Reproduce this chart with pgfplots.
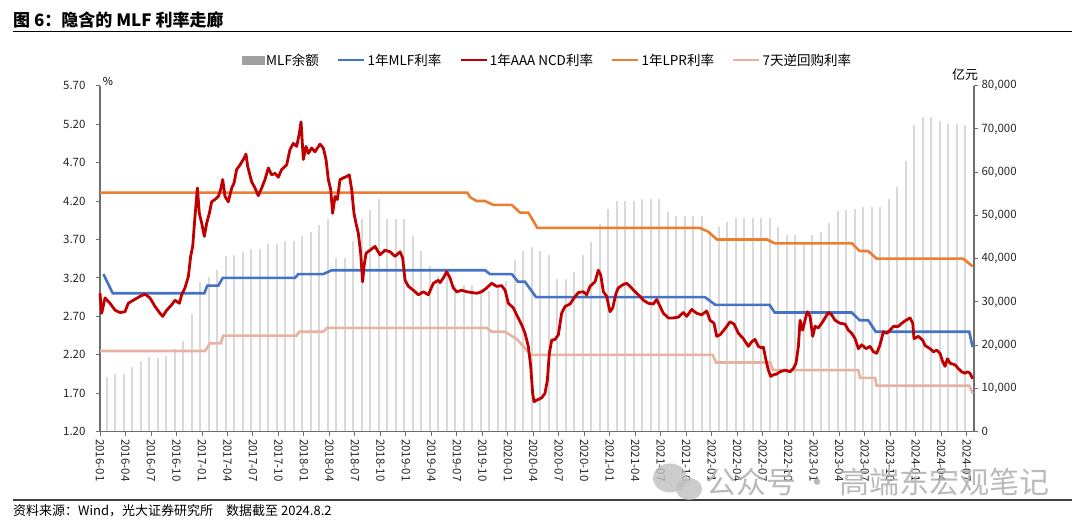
\documentclass[border=0pt]{standalone}
\usepackage{fontspec}
\setmainfont{Noto Sans CJK SC}
\usepackage{pgfplots}
\pgfplotsset{compat=1.18}
\definecolor{cBlue}{RGB}{68,114,196}
\definecolor{cRed}{RGB}{192,0,0}
\definecolor{cOrange}{RGB}{237,125,49}
\definecolor{cPink}{RGB}{233,178,160}
\definecolor{cBar}{RGB}{217,217,217}
\definecolor{cLegBar}{RGB}{160,160,160}
\definecolor{cAxis}{RGB}{110,110,110}
\pgfplotsset{
  linelegend/.style={legend image code/.code={\draw[##1] (0pt,0pt) -- (26pt,0pt);}},
  base/.style={
    scale only axis, width=874pt, height=346pt,
    at={(100pt,92.3pt)}, anchor=south west,
    xmin=0, xmax=102.86,
    tick align=outside, major tick length=4pt,
    every tick/.style={cAxis, line width=0.9pt},
    axis line style={cAxis, line width=1.1pt},
    ticklabel style={font=\fontsize{11.5}{13}\selectfont, text=black!85},
    /pgf/number format/assume math mode=true,
  }
}
\begin{document}
\begin{tikzpicture}[x=1pt,y=1pt]
\path[use as bounding box] (0,0) rectangle (1080,524);
% title
\node[anchor=west, font=\bfseries\fontsize{17}{20}\selectfont, inner sep=0pt] at (13,504) {图 6：隐含的 MLF 利率走廊};
\draw[black, line width=1.5pt] (13,492.3) -- (1072,492.3);
% footer
\draw[black!75, line width=1.5pt] (13,24) -- (1072,24);
\node[anchor=west, font=\fontsize{13}{15}\selectfont, inner sep=0pt] at (13,13) {资料来源：Wind，光大证券研究所\quad 数据截至 2024.8.2};

% right axis: MLF balance
\begin{axis}[base,
  ymin=0, ymax=80000,
  axis y line*=right, axis x line=none,
  ytick={0,10000,20000,30000,40000,50000,60000,70000,80000},
  scaled y ticks=false,
  yticklabel style={/pgf/number format/.cd, fixed, 1000 sep={,}},
]
\addplot[ycomb, cBar, line width=2pt, mark=none, forget plot] coordinates {
(0.8,12700)(1.8,13300)(2.8,13300)(3.8,14900)(4.8,16400)(5.8,17300)(6.8,17000)(7.8,17500)(8.8,19100)(9.8,21000)
(10.8,27200)(11.8,34500)(12.8,35700)(13.8,37500)(14.8,40700)(15.8,40900)(16.8,41500)(17.8,42200)(18.8,42200)(19.8,43400)
(20.8,43500)(21.8,44000)(22.8,44200)(23.8,45300)(24.8,46200)(25.8,47800)(26.8,49200)(27.8,40100)(28.8,40100)(29.8,44200)
(30.8,49200)(31.8,51300)(32.8,53800)(33.8,49200)(34.8,49200)(35.8,49200)(36.8,45300)(37.8,41700)(38.8,38200)(39.8,36100)
(40.8,36000)(41.8,33900)(42.8,33900)(43.8,33900)(44.8,33000)(45.8,32500)(46.8,34000)(47.8,34900)(48.8,39800)(49.8,41800)
(50.8,42800)(51.8,41800)(52.8,40900)(53.8,35400)(54.8,35400)(55.8,37000)(56.8,40900)(57.8,43900)(58.8,48000)(59.8,51500)
(60.8,53400)(61.8,53400)(62.8,53400)(63.8,53900)(64.8,53900)(65.8,53900)(66.8,50900)(67.8,49900)(68.8,49900)(69.8,49900)
(70.8,49900)(71.8,46000)(72.8,47400)(73.8,48400)(74.8,49400)(75.8,49400)(76.8,49400)(77.8,49400)(78.8,49400)(79.8,47400)
(80.8,45500)(81.8,45500)(82.8,43800)(83.8,45500)(84.8,46200)(85.8,48200)(86.8,51100)(87.8,51300)(88.8,51500)(89.8,51900)
(90.8,51900)(91.8,51900)(92.8,53800)(93.8,56600)(94.8,62700)(95.8,70800)(96.8,72800)(97.8,72800)(98.8,71900)(99.8,71100)
(100.8,71100)(101.8,70800)
};
\end{axis}

% left axis: rates
\begin{axis}[base,
  ymin=1.2, ymax=5.7,
  axis y line*=left, axis x line*=bottom,
  ytick={1.2,1.7,2.2,2.7,3.2,3.7,4.2,4.7,5.2,5.7},
  yticklabel style={/pgf/number format/.cd, fixed, fixed zerofill, precision=2, /tikz/xshift=-7pt},
  xtick={0,3,...,102},
  xticklabels={2016-01,2016-04,2016-07,2016-10,2017-01,2017-04,2017-07,2017-10,2018-01,2018-04,2018-07,2018-10,2019-01,2019-04,2019-07,2019-10,2020-01,2020-04,2020-07,2020-10,2021-01,2021-04,2021-07,2021-10,2022-01,2022-04,2022-07,2022-10,2023-01,2023-04,2023-07,2023-10,2024-01,2024-04,2024-07},
  xticklabel style={rotate=-90, anchor=west, font=\fontsize{11.5}{13}\selectfont},
  legend style={at={(0.512,1.074)}, anchor=center, draw=none, fill=none,
    legend columns=5, font=\fontsize{13.5}{15}\selectfont,
    /tikz/every even column/.append style={column sep=16pt}},
  clip=false,
]
\addlegendimage{legend image code/.code={\fill[cLegBar] (0pt,-4pt) rectangle (22pt,4pt);}}
\addlegendentry{MLF余额}
\addlegendimage{cBlue, line width=2.6pt, linelegend}
\addlegendentry{1年MLF利率}
\addlegendimage{cRed, line width=2.6pt, linelegend}
\addlegendentry{1年AAA NCD利率}
\addlegendimage{cOrange, line width=2.6pt, linelegend}
\addlegendentry{1年LPR利率}
\addlegendimage{cPink, line width=2.6pt, linelegend}
\addlegendentry{7天逆回购利率}

% 7-day reverse repo
\addplot[cPink, line width=2.6pt, forget plot] coordinates {
(0,2.25)(12.36,2.25)(12.95,2.35)(14.2,2.35)(14.5,2.45)(23.15,2.45)(23.46,2.5)(26.28,2.5)(26.7,2.55)
(45.5,2.55)(46.1,2.5)(47.67,2.5)(49.1,2.4)(50.7,2.2)(72.1,2.2)(72.5,2.1)(78.9,2.1)(79.2,2.0)
(89.25,2.0)(89.45,1.9)(91.2,1.9)(91.4,1.8)(102.3,1.8)(102.7,1.7)
};
% LPR
\addplot[cOrange, line width=2.6pt, forget plot] coordinates {
(0,4.31)(43.24,4.31)(43.55,4.25)(44.33,4.2)(45.31,4.2)(46.29,4.15)(48.45,4.15)(49.43,4.05)(50.41,4.05)(51.47,3.85)
(70.6,3.85)(71.6,3.8)(72.6,3.7)(78.5,3.7)(79.4,3.65)(88.5,3.65)(89.4,3.55)(90.4,3.55)(91.4,3.45)(101.6,3.45)(102.7,3.35)
};
% MLF rate
\addplot[cBlue, line width=2.6pt, forget plot] coordinates {
(0.4,3.25)(1.5,3.0)(12.28,3.0)(12.63,3.1)(13.93,3.1)(14.44,3.2)(22.95,3.2)(23.34,3.25)(26.28,3.25)(27.27,3.3)
(45.31,3.3)(45.9,3.25)(48.46,3.25)(49.2,3.15)(50.02,3.15)(51.32,2.95)(71.2,2.95)(72.4,2.85)(78.8,2.85)(79.4,2.75)
(88.47,2.75)(89.4,2.65)(90.4,2.65)(91.3,2.5)(102.3,2.5)(102.7,2.3)
};
% 1Y AAA NCD
\addplot[cRed, line width=2.8pt, line join=round, forget plot] coordinates {
(0,3.00)(0.2,2.74)(0.59,2.94)(1.18,2.87)(1.77,2.78)(2.35,2.75)(2.94,2.76)(3.33,2.87)(3.92,2.91)(4.71,2.96)
(5.30,2.99)(5.88,2.94)(6.47,2.83)(7.06,2.74)(7.38,2.70)(7.85,2.78)(8.43,2.85)(8.83,2.91)(9.34,2.87)(9.61,2.98)
(10.0,3.07)(10.40,3.22)(10.67,3.48)(10.91,3.61)(11.18,4.0)(11.46,4.37)(11.69,4.04)(11.97,3.91)(12.28,3.74)(12.55,3.91)
(12.87,4.04)(13.14,4.19)(13.53,4.22)(13.93,4.26)(14.20,4.35)(14.44,4.48)(14.71,4.26)(15.10,4.19)(15.50,4.37)(15.77,4.43)
(16.08,4.61)(16.48,4.67)(16.87,4.74)(17.18,4.81)(17.38,4.65)(17.85,4.45)(18.24,4.37)(18.63,4.27)(19.03,4.37)(19.42,4.48)
(19.81,4.63)(20.20,4.54)(20.60,4.56)(20.99,4.51)(21.38,4.61)(21.97,4.67)(22.36,4.87)(22.75,4.95)(23.15,4.91)(23.46,5.08)
(23.66,5.23)(23.93,4.74)(24.25,4.91)(24.52,4.82)(24.91,4.89)(25.30,4.84)(25.89,4.94)(26.28,4.89)(26.60,4.74)(26.87,4.48)
(27.15,4.35)(27.38,4.04)(27.66,4.26)(27.93,4.22)(28.25,4.48)(28.64,4.50)(29.03,4.52)(29.34,4.54)(29.62,4.35)(29.89,4.04)
(30.13,3.91)(30.40,3.78)(30.68,3.52)(30.91,3.15)(31.07,3.35)(31.31,3.52)(31.78,3.56)(32.37,3.61)(32.95,3.50)(33.54,3.56)
(34.13,3.54)(34.72,3.48)(35.31,3.54)(35.62,3.46)(35.90,3.17)(36.29,3.09)(36.88,3.04)(37.47,2.98)(38.05,3.02)(38.64,2.98)
(39.23,3.13)(39.82,3.17)(40.02,3.14)(40.41,3.20)(40.80,3.28)(41.19,3.20)(41.58,3.07)(41.98,3.02)(42.57,3.04)(43.15,3.02)
(43.74,3.01)(44.33,3.00)(44.92,3.02)(45.51,3.07)(46.10,3.13)(46.68,3.09)(47.27,3.10)(47.67,3.04)(48.06,2.87)(48.65,2.81)
(49.12,2.70)(49.63,2.59)(50.02,2.48)(50.41,2.31)(50.69,2.05)(50.92,1.70)(51.08,1.59)(51.39,1.61)(51.98,1.64)(52.37,1.70)
(52.65,1.87)(52.88,2.22)(53.16,2.39)(53.55,2.40)(53.94,2.46)(54.33,2.74)(54.73,2.83)(55.32,2.86)(55.79,2.94)(56.30,3.01)
(56.88,3.02)(57.28,2.98)(57.67,3.09)(58.26,3.15)(58.65,3.30)(58.93,3.24)(59.24,3.02)(59.63,2.96)(60.02,2.76)(60.34,2.81)
(60.73,3.00)(61.00,3.07)(61.51,3.11)(61.98,3.13)(62.38,3.09)(62.97,3.02)(63.55,2.96)(63.95,2.91)(64.54,2.87)(65.12,2.86)
(65.52,2.92)(65.91,2.83)(66.30,2.74)(66.89,2.68)(67.48,2.68)(68.07,2.69)(68.65,2.75)(69.05,2.70)(69.64,2.79)(70.22,2.74)
(70.81,2.72)(71.40,2.77)(71.79,2.65)(72.26,2.61)(72.58,2.44)(72.97,2.46)(73.56,2.54)(74.15,2.63)(74.62,2.60)(75.13,2.48)
(75.72,2.41)(76.30,2.31)(76.70,2.37)(77.09,2.40)(77.48,2.31)(77.87,2.29)(78.07,2.30)(78.38,2.13)(78.66,2.00)(78.93,1.92)
(79.25,1.94)(79.64,1.95)(80.03,1.98)(80.62,2.00)(81.21,1.98)(81.60,2.02)(81.91,2.09)(82.19,2.31)(82.39,2.65)(82.70,2.52)
(82.97,2.65)(83.25,2.76)(83.56,2.70)(83.88,2.44)(84.15,2.57)(84.54,2.55)(84.93,2.61)(85.33,2.68)(85.72,2.75)(86.11,2.72)
(86.50,2.65)(87.09,2.61)(87.68,2.60)(88.07,2.52)(88.47,2.48)(88.86,2.41)(89.25,2.28)(89.64,2.33)(90.15,2.28)(90.62,2.31)
(91.02,2.24)(91.41,2.22)(91.80,2.33)(92.19,2.50)(92.59,2.48)(92.98,2.52)(93.37,2.57)(93.96,2.57)(94.35,2.61)(94.86,2.65)
(95.33,2.68)(95.65,2.61)(95.80,2.41)(96.31,2.44)(96.82,2.39)(97.10,2.32)(97.69,2.28)(98.08,2.24)(98.47,2.26)(98.86,2.22)
(99.18,2.11)(99.45,2.05)(99.73,2.15)(100.04,2.09)(100.63,2.07)(101.02,2.02)(101.41,1.98)(101.81,1.96)(102.08,1.98)(102.39,1.96)
(102.71,1.89)
};
\end{axis}
% unit labels
\node[font=\fontsize{11}{13}\selectfont, inner sep=0pt] at (108,443) {\%};
\node[font=\fontsize{13}{15}\selectfont, inner sep=0pt] at (965,449) {亿元};
% watermark
\fill[black!25, opacity=0.8] (670,46) ellipse (17 and 14.5);
\fill[black!25, opacity=0.8] (689,35) ellipse (13 and 11);
\node[anchor=west, font=\fontsize{30}{32}\selectfont, text=black!30, opacity=0.9, inner sep=0pt] at (706,42) {公众号 · 高端东宏观笔记};
\end{tikzpicture}
\end{document}
